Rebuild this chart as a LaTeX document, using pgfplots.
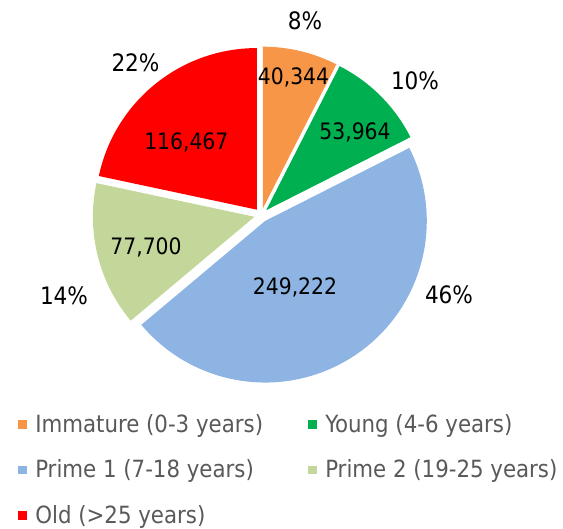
\documentclass[border=0pt]{standalone}
\usepackage{pgfplots}
\pgfplotsset{compat=1.18}
\usepackage{pgfplotstable}
\usepackage{fontspec}
\setmainfont{DejaVu Sans Condensed}

\definecolor{cImm}{HTML}{F79646}
\definecolor{cYoung}{HTML}{00B050}
\definecolor{cPa}{HTML}{8DB4E2}
\definecolor{cPb}{HTML}{C4D79B}
\definecolor{cOld}{HTML}{FF0000}
\definecolor{legtext}{HTML}{595959}

% values, clockwise from 12 o'clock
\pgfplotstableread{
value
40344
53964
249222
77700
116467
}\piedata

\pgfplotstablegetelem{0}{value}\of\piedata\let\vA\pgfplotsretval
\pgfplotstablegetelem{1}{value}\of\piedata\let\vB\pgfplotsretval
\pgfplotstablegetelem{2}{value}\of\piedata\let\vC\pgfplotsretval
\pgfplotstablegetelem{3}{value}\of\piedata\let\vD\pgfplotsretval
\pgfplotstablegetelem{4}{value}\of\piedata\let\vE\pgfplotsretval

\edef\tot{\fpeval{\vA+\vB+\vC+\vD+\vE}}
\def\CX{261.3}\def\CY{310.9}\def\R{161.6}\def\EX{7}
\edef\sA{90}
\edef\sB{\fpeval{round(\sA-360*\vA/\tot,4)}}
\edef\sC{\fpeval{round(\sB-360*\vB/\tot,4)}}
\edef\sD{\fpeval{round(\sC-360*\vC/\tot,4)}}
\edef\sE{\fpeval{round(\sD-360*\vD/\tot,4)}}
\edef\sF{\fpeval{round(\sE-360*\vE/\tot,4)}}
% exploded apex of each wedge
\edef\xA{\fpeval{round(\CX+\EX*cosd((\sA+\sB)/2),4)}}\edef\yA{\fpeval{round(\CY+\EX*sind((\sA+\sB)/2),4)}}
\edef\xB{\fpeval{round(\CX+\EX*cosd((\sB+\sC)/2),4)}}\edef\yB{\fpeval{round(\CY+\EX*sind((\sB+\sC)/2),4)}}
\edef\xC{\fpeval{round(\CX+\EX*cosd((\sC+\sD)/2),4)}}\edef\yC{\fpeval{round(\CY+\EX*sind((\sC+\sD)/2),4)}}
\edef\xD{\fpeval{round(\CX+\EX*cosd((\sD+\sE)/2),4)}}\edef\yD{\fpeval{round(\CY+\EX*sind((\sD+\sE)/2),4)}}
\edef\xE{\fpeval{round(\CX+\EX*cosd((\sE+\sF)/2),4)}}\edef\yE{\fpeval{round(\CY+\EX*sind((\sE+\sF)/2),4)}}
\edef\pA{\fpeval{round(100*\vA/\tot)}}
\edef\pB{\fpeval{round(100*\vB/\tot)}}
\edef\pC{\fpeval{round(100*\vC/\tot)}}
\edef\pD{\fpeval{round(100*\vD/\tot)}}
\edef\pE{\fpeval{round(100*\vE/\tot)}}

\newcommand\thsep[1]{\edef\tmpr{\fpeval{#1-1000*trunc(#1/1000)}}\fpeval{trunc(#1/1000)},\ifnum\tmpr<100 0\fi\ifnum\tmpr<10 0\fi\tmpr}
\newcommand\lblfont{\fontsize{22.6}{26}\selectfont}
\newcommand\pctfont{\fontsize{24}{28}\selectfont}
\newcommand\pieslice[5]{% color, apex x, apex y, start, end
  \fill[#1] (axis cs:#2,#3) -- ++(#4:\R pt) arc[start angle=#4, end angle=#5, radius=\R pt] -- cycle;}

\begin{document}
\begin{tikzpicture}
\begin{axis}[
  x=1pt, y=1pt, xmin=0, xmax=563, ymin=0, ymax=526,
  axis line style={draw=none}, xtick=\empty, ytick=\empty, clip=false,
  legend columns=2, legend cell align=left,
  legend image code/.code={\fill[#1] (0pt,-2.4pt) rectangle (8.4pt,6pt); \path (17pt,0pt);},
  legend style={at={(0.0325,0.2105)}, anchor=north west, draw=none, fill=none,
    inner sep=0pt, outer sep=0pt, column sep=0pt, row sep=23.5pt,
    font=\fontsize{23.7}{28}\selectfont, text=legtext,
    nodes={inner sep=0pt, text height=17pt, text depth=5pt}},
]
\pieslice{cImm}{\xA}{\yA}{\sA}{\sB}
\pieslice{cYoung}{\xB}{\yB}{\sB}{\sC}
\pieslice{cPa}{\xC}{\yC}{\sC}{\sD}
\pieslice{cPb}{\xD}{\yD}{\sD}{\sE}
\pieslice{cOld}{\xE}{\yE}{\sE}{\sF}

\addlegendimage{fill=cImm,draw=none}
\addlegendentry{\makebox[273pt][l]{Immature (0-3 years)}}
\addlegendimage{fill=cYoung,draw=none}
\addlegendentry{Young (4-6 years)}
\addlegendimage{fill=cPa,draw=none}
\addlegendentry{\makebox[273pt][l]{Prime 1 (7-18 years)}}
\addlegendimage{fill=cPb,draw=none}
\addlegendentry{Prime 2 (19-25 years)}
\addlegendimage{fill=cOld,draw=none}
\addlegendentry{\makebox[273pt][l]{Old (>25 years)}}

% value labels
\node[anchor=base, inner sep=0pt, font=\lblfont] at (axis cs:293.5,441) {\thsep{\vA}};
\node[anchor=base, inner sep=0pt, font=\lblfont] at (axis cs:355,386.7) {\thsep{\vB}};
\node[anchor=base, inner sep=0pt, font=\lblfont] at (axis cs:295,231) {\thsep{\vC}};
\node[anchor=base, inner sep=0pt, font=\lblfont] at (axis cs:146,271) {\thsep{\vD}};
\node[anchor=base, inner sep=0pt, font=\lblfont] at (axis cs:186.3,376) {\thsep{\vE}};
% percentage labels
\node[anchor=base, inner sep=0pt, font=\pctfont] at (axis cs:305,496) {\pA\%};
\node[anchor=base, inner sep=0pt, font=\pctfont] at (axis cs:415,436) {\pB\%};
\node[anchor=base, inner sep=0pt, font=\pctfont] at (axis cs:449,222.7) {\pC\%};
\node[anchor=base, inner sep=0pt, font=\pctfont] at (axis cs:64,221) {\pD\%};
\node[anchor=base, inner sep=0pt, font=\pctfont] at (axis cs:135.5,454.3) {\pE\%};
\end{axis}
\end{tikzpicture}
\end{document}
